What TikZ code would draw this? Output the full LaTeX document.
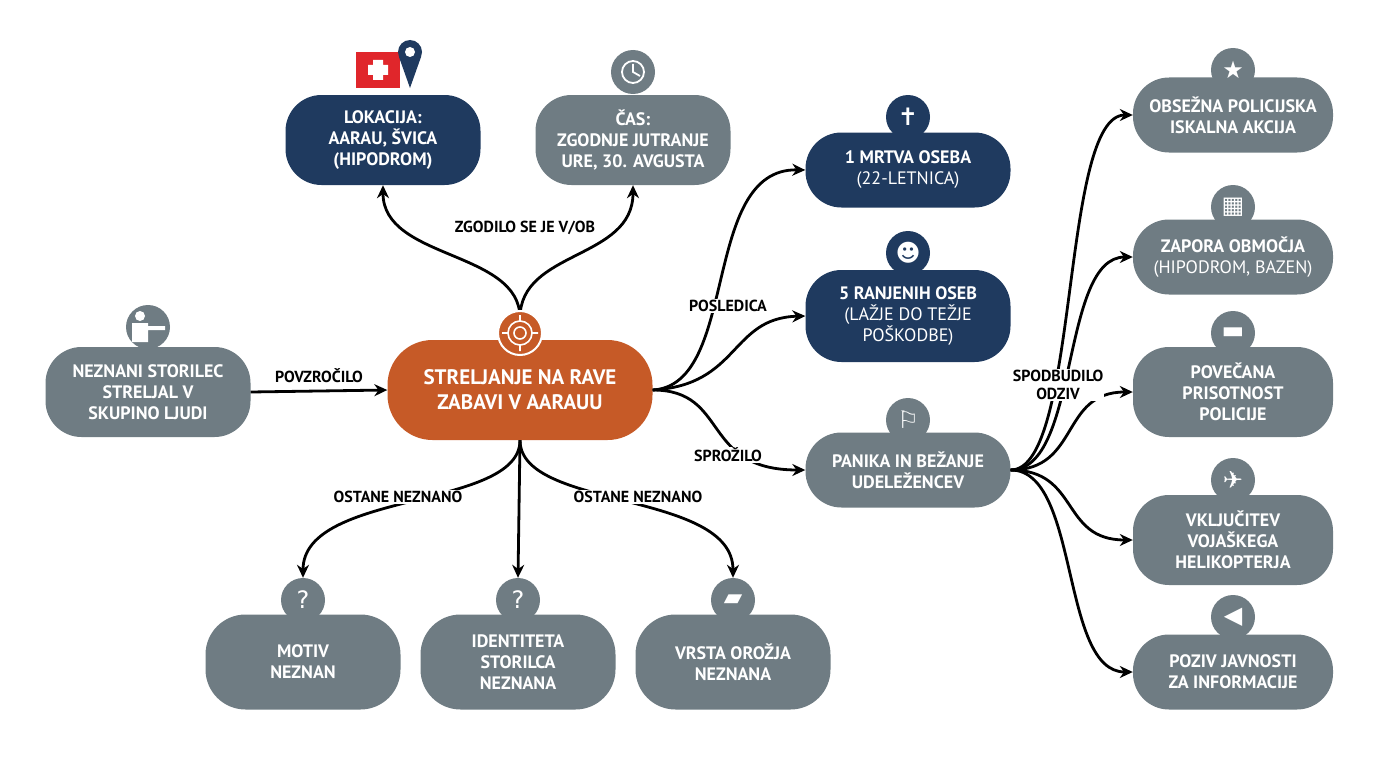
\documentclass[tikz,border=0pt]{standalone}
\usepackage{fontspec}
\setmainfont{PT Sans}
\newfontfamily\djv{DejaVu Sans}
\usetikzlibrary{arrows.meta}
\definecolor{gr}{HTML}{6F7C83}
\definecolor{nv}{HTML}{1F3A5F}
\definecolor{orr}{HTML}{C65A27}
\definecolor{sw}{HTML}{E0262B}
\begin{document}
\begin{tikzpicture}[x=1pt,y=-1pt,
 box/.style={rounded corners=36pt,text=white,font=\bfseries\fontsize{18}{21}\selectfont,align=center,inner sep=2pt},
 g/.style={box,fill=gr},n/.style={box,fill=nv},
 ic/.style={circle,minimum size=44pt,inner sep=0pt,text=white,font=\djv\fontsize{24}{24}\selectfont},
 ar/.style={line width=2.8pt,-{Stealth[length=13pt,width=12pt]}},
 lb/.style={font=\bfseries\fontsize{16}{18}\selectfont,fill=white,inner sep=1pt,align=center}]
\useasboundingbox (0,0) rectangle (1376,768);
% nodes
\node[box,fill=orr,minimum width=265pt,minimum height=100pt,rounded corners=45pt,font=\bfseries\fontsize{21}{25}\selectfont] (c) at (520,390) {STRELJANJE NA RAVE\\ZABAVI V AARAUU};
\node[g,minimum width=205pt,minimum height=90pt] (nz) at (148,392) {NEZNANI STORILEC\\STRELJAL V\\SKUPINO LJUDI};
\node[n,minimum width=195pt,minimum height=90pt] (lo) at (383,140) {LOKACIJA:\\AARAU, ŠVICA\\(HIPODROM)};
\node[g,minimum width=195pt,minimum height=90pt] (ca) at (633,140) {ČAS:\\ZGODNJE JUTRANJE\\URE, 30. AVGUSTA};
\node[n,minimum width=205pt,minimum height=75pt] (m1) at (908,170) {1 MRTVA OSEBA\\{\mdseries (22-LETNICA)}};
\node[n,minimum width=205pt,minimum height=92pt] (r5) at (908,316) {5 RANJENIH OSEB\\{\mdseries (LAŽJE DO TEŽJE}\\{\mdseries POŠKODBE)}};
\node[g,minimum width=205pt,minimum height=75pt] (pa) at (908,470) {PANIKA IN BEŽANJE\\UDELEŽENCEV};
\node[g,minimum width=200pt,minimum height=75pt] (o1) at (1233,115) {OBSEŽNA POLICIJSKA\\ISKALNA AKCIJA};
\node[g,minimum width=200pt,minimum height=75pt] (o2) at (1233,257) {ZAPORA OBMOČJA\\{\mdseries (HIPODROM, BAZEN)}};
\node[g,minimum width=200pt,minimum height=90pt] (o3) at (1233,392) {POVEČANA\\PRISOTNOST\\POLICIJE};
\node[g,minimum width=200pt,minimum height=90pt] (o4) at (1233,540) {VKLJUČITEV\\VOJAŠKEGA\\HELIKOPTERJA};
\node[g,minimum width=200pt,minimum height=75pt] (o5) at (1233,672) {POZIV JAVNOSTI\\ZA INFORMACIJE};
\node[g,minimum width=195pt,minimum height=95pt,rounded corners=40pt] (b1) at (303,662) {MOTIV\\NEZNAN};
\node[g,minimum width=195pt,minimum height=95pt,rounded corners=40pt] (b2) at (518,662) {IDENTITETA\\STORILCA\\NEZNANA};
\node[g,minimum width=195pt,minimum height=95pt,rounded corners=40pt] (b3) at (733,662) {VRSTA OROŽJA\\NEZNANA};
% icons
\node[ic,fill=gr] (ic1) at (148,327) {};
\fill[white] (140,316) circle (5pt) (132,323) rectangle (148,342) (140,326) rectangle (165,330);
\node[ic,fill=gr] (ic2) at (633,72) {};
\draw[white,line width=1.8pt] (ic2) circle (11pt) (633,64)--(633,72)--(640,76);
\node[ic,fill=nv] (ic3) at (908,117) {✝};
\node[ic,fill=nv] (ic4) at (908,253) {☻};
\node[ic,fill=gr] (ic5) at (908,420) {⚐};
\node[ic,fill=gr] (ic6) at (1233,70) {★};
\node[ic,fill=gr] (ic7) at (1233,207) {▦};
\node[ic,fill=gr] (ic8) at (1233,333) {▬};
\node[ic,fill=gr] (ic9) at (1233,480) {✈};
\node[ic,fill=gr] (ic10) at (1233,617) {◀};
\node[ic,fill=gr] (ic11) at (303,600) {?};
\node[ic,fill=gr] (ic12) at (518,600) {?};
\node[ic,fill=gr] (ic13) at (733,600) {▰};
\node[fill=sw,minimum width=44pt,minimum height=36pt] (fl) at (378,70) {};
\fill[white] (373,60) rectangle (383,80) (368,65) rectangle (388,75);
\fill[nv] (410,52) circle (12pt);
\fill[nv] (399,57)--(421,57)--(410,88)--cycle;
\fill[white] (410,52) circle (5pt);
% edges
\draw[ar] (520,318) .. controls (520,250) and (383,260) .. (lo.south);
\draw[ar] (520,318) .. controls (520,250) and (633,260) .. (ca.south);
\node[lb] at (525,228) {ZGODILO SE JE V/OB};
\node[ic,fill=orr,draw=white,line width=2pt] (ic0) at (520,333) {};
\draw[white,line width=1.6pt] (ic0) circle (12pt) (ic0) circle (6pt) (508,333)--(502,333) (532,333)--(538,333) (520,321)--(520,315) (520,345)--(520,351);
\draw[ar] (nz.east) -- node[lb,above=6pt,fill=none]{POVZROČILO} (c.west);
\draw[ar] (c.east) .. controls (740,385) and (700,168) .. (m1.west);
\draw[ar] (c.east) .. controls (740,385) and (730,318) .. (r5.west);
\draw[ar] (c.east) .. controls (730,390) and (700,470) .. (pa.west);
\node[lb] at (728,306) {POSLEDICA};
\node[lb] at (728,455) {SPROŽILO};
\draw[ar] (c.south) .. controls (520,510) and (303,490) .. (ic11.north);
\draw[ar] (c.south) -- (ic12.north);
\draw[ar] (c.south) .. controls (520,510) and (733,490) .. (ic13.north);
\node[lb] at (398,497) {OSTANE NEZNANO};
\node[lb] at (638,497) {OSTANE NEZNANO};
\foreach \t in {o1,o2,o3,o4,o5}
 \draw[ar] (pa.east) .. controls (1080,470) and (1060,0|-\t.west) .. (\t.west);
\node[lb] at (1058,385) {SPODBUDILO\\ODZIV};
\end{tikzpicture}
\end{document}
